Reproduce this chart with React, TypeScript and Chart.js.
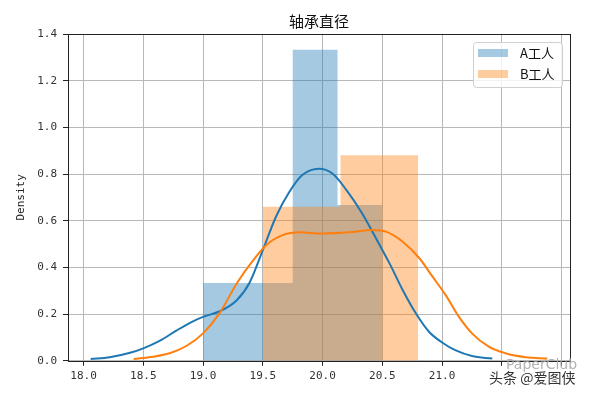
import React, { useEffect, useRef } from 'react';
import { Chart, registerables } from 'chart.js';

Chart.register(...registerables);

const TITLE = '轴承直径';
const Y_LABEL = 'Density';
const SERIES_NAMES = ['A工人', 'B工人'];
const HIDDEN_X_TICKS = [21.5, 22.0];
const WATERMARK_1 = 'PaperClub';
const WATERMARK_2 = '头条 @爱图侠';

const HIST_A_EDGES = [19.0, 19.375, 19.75, 20.125, 20.5];
const HIST_A_DENSITY = [0.333, 0.333, 1.333, 0.667];
const HIST_B_EDGES = [19.5, 20.15, 20.8];
const HIST_B_DENSITY = [0.66, 0.88];

const KDE_A_X = [18.06, 18.22, 18.39, 18.5, 18.64, 18.78, 18.92, 19.0, 19.14, 19.28, 19.39, 19.5, 19.61, 19.72, 19.83, 19.97, 20.08, 20.2, 20.33, 20.44, 20.56, 20.67, 20.78, 20.89, 21.0, 21.11, 21.25, 21.42];
const KDE_A_Y = [0.007, 0.015, 0.034, 0.053, 0.086, 0.13, 0.17, 0.188, 0.212, 0.258, 0.335, 0.474, 0.617, 0.722, 0.796, 0.823, 0.803, 0.731, 0.632, 0.531, 0.417, 0.303, 0.203, 0.124, 0.078, 0.045, 0.02, 0.009];
const KDE_B_X = [18.42, 18.58, 18.72, 18.86, 19.0, 19.14, 19.28, 19.42, 19.53, 19.67, 19.81, 20.0, 20.22, 20.42, 20.53, 20.67, 20.81, 20.92, 21.03, 21.14, 21.25, 21.39, 21.53, 21.7, 21.88];
const KDE_B_Y = [0.007, 0.017, 0.032, 0.063, 0.117, 0.205, 0.33, 0.431, 0.496, 0.539, 0.55, 0.545, 0.55, 0.56, 0.553, 0.51, 0.439, 0.36, 0.281, 0.189, 0.117, 0.06, 0.032, 0.015, 0.009];

const BLUE = '#1f77b4';
const ORANGE = '#ff7f0e';
const BLUE_FILL = 'rgba(31,119,180,0.4)';
const ORANGE_FILL = 'rgba(255,127,14,0.4)';

const histPoints = (edges: number[], dens: number[]) =>
  edges.map((e, i) => ({ x: e, y: dens[Math.min(i, dens.length - 1)] }));
const kdePoints = (xs: number[], ys: number[]) => xs.map((x, i) => ({ x, y: ys[i] }));

const decorPlugin = {
  id: 'decor',
  afterDraw(chart: any) {
    const { ctx, chartArea } = chart;
    const { left, right, top, bottom } = chartArea;
    ctx.save();
    // frame
    ctx.strokeStyle = '#222';
    ctx.lineWidth = 1;
    ctx.strokeRect(Math.round(left) + 0.5, Math.round(top) + 0.5, Math.round(right - left), Math.round(bottom - top));
    // title
    ctx.fillStyle = '#111';
    ctx.font = '15px "Noto Sans CJK SC", sans-serif';
    ctx.textAlign = 'center';
    ctx.textBaseline = 'middle';
    ctx.fillText(TITLE, (left + right) / 2, 21);
    // legend
    const lw = 89, lh = 45;
    const lx = right - 8 - lw, ly = top + 8;
    ctx.beginPath();
    (ctx as any).roundRect(lx + 0.5, ly + 0.5, lw, lh, 3);
    ctx.fillStyle = 'rgba(255,255,255,0.8)';
    ctx.fill();
    ctx.strokeStyle = '#d0d0d0';
    ctx.stroke();
    const fills = [BLUE_FILL, ORANGE_FILL];
    ctx.font = '13px "Noto Sans CJK SC", sans-serif';
    ctx.textAlign = 'left';
    SERIES_NAMES.forEach((name, i) => {
      const ry = ly + 7 + i * 21;
      ctx.fillStyle = fills[i];
      ctx.fillRect(lx + 5, ry, 30, 8);
      ctx.fillStyle = '#111';
      ctx.fillText(name, lx + 47, ry + 4.5);
    });
    // watermark
    ctx.font = '14px "DejaVu Sans", sans-serif';
    ctx.fillStyle = 'rgba(170,170,170,0.9)';
    ctx.fillText(WATERMARK_1, 506, 365);
    ctx.font = '14px "Noto Sans CJK SC", sans-serif';
    ctx.lineWidth = 3;
    ctx.strokeStyle = 'rgba(255,255,255,0.9)';
    ctx.strokeText(WATERMARK_2, 489, 378);
    ctx.fillStyle = '#333';
    ctx.fillText(WATERMARK_2, 489, 378);
    ctx.restore();
  },
};

export default function App() {
  const ref = useRef<HTMLCanvasElement>(null);
  useEffect(() => {
    if (!ref.current) return;
    const tickFont = { family: '"DejaVu Sans Mono", monospace', size: 11 };
    const chart = new Chart(ref.current, {
      type: 'line',
      data: {
        datasets: [
          {
            label: SERIES_NAMES[0],
            data: histPoints(HIST_A_EDGES, HIST_A_DENSITY),
            stepped: 'before',
            fill: 'origin',
            backgroundColor: BLUE_FILL,
            borderColor: 'transparent',
            borderWidth: 0,
            pointRadius: 0,
            order: 4,
          },
          {
            label: SERIES_NAMES[0] + ' kde',
            data: kdePoints(KDE_A_X, KDE_A_Y),
            borderColor: BLUE,
            borderWidth: 2,
            cubicInterpolationMode: 'monotone',
            fill: false,
            pointRadius: 0,
            order: 2,
          },
          {
            label: SERIES_NAMES[1],
            data: histPoints(HIST_B_EDGES, HIST_B_DENSITY),
            stepped: 'before',
            fill: 'origin',
            backgroundColor: ORANGE_FILL,
            borderColor: 'transparent',
            borderWidth: 0,
            pointRadius: 0,
            order: 3,
          },
          {
            label: SERIES_NAMES[1] + ' kde',
            data: kdePoints(KDE_B_X, KDE_B_Y),
            borderColor: ORANGE,
            borderWidth: 2,
            cubicInterpolationMode: 'monotone',
            fill: false,
            pointRadius: 0,
            order: 1,
          },
        ] as any,
      },
      options: {
        animation: false,
        responsive: false,
        devicePixelRatio: 1,
        layout: { padding: { top: 34, right: 25, left: 0, bottom: 0 } },
        plugins: { legend: { display: false }, tooltip: { enabled: false }, title: { display: false } },
        scales: {
          x: {
            type: 'linear',
            min: 17.87,
            max: 22.07,
            afterFit: (s: any) => { s.height = 34.3; },
            border: { display: false },
            grid: { color: '#b8b8b8', lineWidth: 1, tickColor: '#222', tickLength: 5 },
            ticks: {
              stepSize: 0.5,
              includeBounds: false,
              autoSkip: false,
              maxRotation: 0,
              padding: 4,
              color: '#333',
              font: tickFont,
              callback: (v: any) => (HIDDEN_X_TICKS.some((h) => Math.abs(h - Number(v)) < 1e-6) ? '' : Number(v).toFixed(1)),
            },
          },
          y: {
            min: 0,
            max: 1.4,
            afterFit: (s: any) => { s.width = 68; },
            border: { display: false },
            grid: { color: '#b8b8b8', lineWidth: 1, tickColor: '#222', tickLength: 5 },
            title: { display: true, text: Y_LABEL, color: '#222', font: tickFont, padding: { top: 15, bottom: 0 } },
            ticks: {
              stepSize: 0.2,
              padding: 6,
              color: '#333',
              font: tickFont,
              callback: (v: any) => Number(v).toFixed(1),
            },
          },
        },
      } as any,
      plugins: [decorPlugin],
    });
    return () => chart.destroy();
  }, []);
  return (
    <div style={{ position: 'absolute', left: 0, top: 0, width: 595, height: 395, background: '#fff' }}>
      <canvas ref={ref} width={595} height={395} style={{ display: 'block' }} />
    </div>
  );
}
